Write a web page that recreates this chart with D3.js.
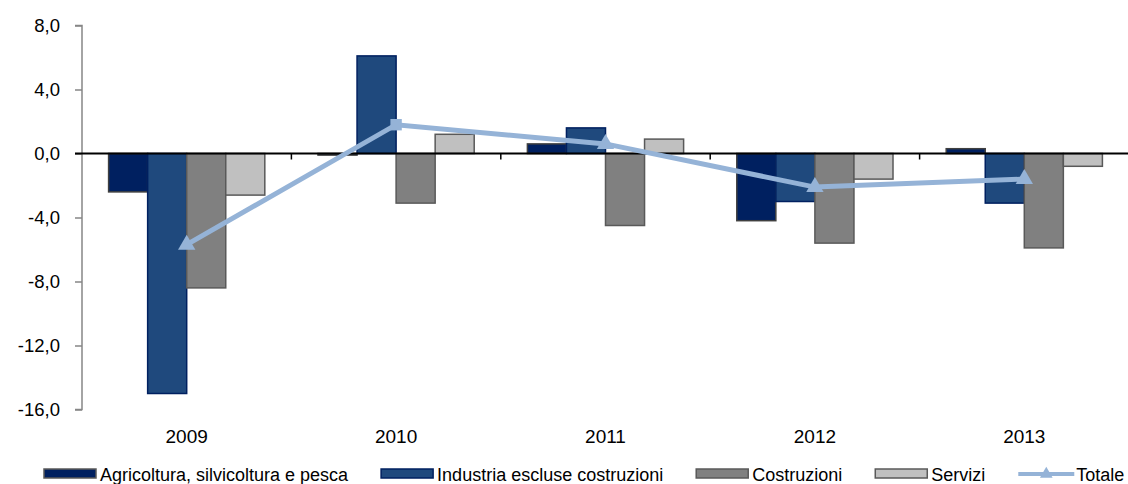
<!DOCTYPE html>
<html>
<head>
<meta charset="utf-8">
<script src="https://cdn.jsdelivr.net/npm/d3@7"></script>
<style>
  body { margin: 0; background: #fff; }
  text { font-family: "Liberation Sans", Arial, sans-serif; fill: #000; }
</style>
</head>
<body>
<div class="chart"></div>
<script>
// data
const years = ["2009", "2010", "2011", "2012", "2013"];
const series = ["Agricoltura, silvicoltura e pesca", "Industria escluse costruzioni", "Costruzioni", "Servizi"];
const agricoltura = [-2.4, -0.1, 0.6, -4.2, 0.3];
const industria = [-15.0, 6.1, 1.6, -3.0, -3.1];
const costruzioni = [-8.4, -3.1, -4.5, -5.6, -5.9];
const servizi = [-2.6, 1.2, 0.9, -1.6, -0.8];
const totale = [-5.7, 1.8, 0.6, -2.1, -1.6];
const yTicks = [-16, -12, -8, -4, 0, 4, 8];

const values = [agricoltura, industria, costruzioni, servizi];
const fills = ["#002060", "#1f497d", "#808080", "#c0c0c0"];
const strokes = ["#404040", "#002060", "#595959", "#595959"];
const lineColor = "#95b3d7";

const width = 1128, height = 484;
const plotLeft = 82, plotRight = 1129, plotTop = 25.5, plotBottom = 409.5;

const svg = d3.select(".chart").append("svg")
    .attr("width", width)
    .attr("height", height);

const x0 = d3.scaleBand()
    .domain(years)
    .range([plotLeft, plotRight])
    .paddingInner(0.254)
    .paddingOuter(0.127);

const x1 = d3.scaleBand()
    .domain(d3.range(series.length))
    .range([0, x0.bandwidth()]);

const y = d3.scaleLinear()
    .domain([-16, 8])
    .range([plotBottom, plotTop]);

// italian style: comma decimal, plain hyphen minus
const it = d3.formatLocale({ decimal: ",", thousands: ".", grouping: [3], currency: ["", "€"], minus: "-" });
const fmt = it.format(".1f");

// y axis
const yAxis = svg.append("g")
    .attr("transform", `translate(${plotLeft},0)`)
    .call(d3.axisLeft(y).tickValues(yTicks).tickSize(7).tickPadding(15).tickFormat(fmt));
yAxis.selectAll("path, line").attr("stroke", "#868686").attr("stroke-width", 1.5);
yAxis.select(".domain").attr("d", `M-7,${y(8)}H0V${y(-16)}H-7`);
yAxis.selectAll("text").style("font-size", "18.5px").attr("font-family", null);

// bars
const groups = svg.append("g").selectAll("g")
    .data(years)
    .join("g")
    .attr("transform", d => `translate(${x0(d)},0)`);

groups.selectAll("rect")
    .data((d, i) => values.map((v, k) => ({ k: k, v: v[i] })))
    .join("rect")
    .attr("x", d => x1(d.k))
    .attr("width", x1.bandwidth())
    .attr("y", d => y(Math.max(0, d.v)))
    .attr("height", d => Math.abs(y(d.v) - y(0)))
    .attr("fill", d => fills[d.k])
    .attr("stroke", d => strokes[d.k])
    .attr("stroke-width", 1.5);

// zero line with category ticks
const xAxis = svg.append("g")
    .attr("transform", `translate(0,${y(0)})`);
xAxis.append("line")
    .attr("x1", plotLeft - 7).attr("x2", plotRight)
    .attr("stroke", "#000").attr("stroke-width", 1.8);
const bounds = years.map(d => x0(d) - x0.step() * x0.paddingInner() / 2).concat([plotRight]);
xAxis.selectAll(".tk")
    .data(bounds.slice(1))
    .join("line")
    .attr("class", "tk")
    .attr("x1", d => d).attr("x2", d => d)
    .attr("y1", 0).attr("y2", 6)
    .attr("stroke", "#000").attr("stroke-width", 1.5);

// year labels
svg.append("g").selectAll("text")
    .data(years)
    .join("text")
    .attr("x", d => x0(d) + x0.bandwidth() / 2)
    .attr("y", 443)
    .attr("text-anchor", "middle")
    .style("font-size", "19px")
    .text(d => d);

// totale line
const cx = (d, i) => x0(years[i]) + x0.bandwidth() / 2;
const line = d3.line()
    .x(cx)
    .y(d => y(d));

svg.append("path")
    .datum(totale)
    .attr("d", line)
    .attr("fill", "none")
    .attr("stroke", lineColor)
    .attr("stroke-width", 5);

const tri = d3.symbol().type(d3.symbolTriangle).size(130);
const sq = d3.symbol().type(d3.symbolSquare).size(130);
svg.append("g").selectAll("path")
    .data(totale)
    .join("path")
    .attr("transform", (d, i) => `translate(${cx(d, i)},${y(d)})`)
    .attr("d", (d, i) => i === 1 ? sq() : tri())
    .attr("fill", lineColor);

// legend
const legend = svg.append("g").attr("transform", "translate(0,474)");
let lx = 44;
const labels = series.concat(["Totale"]);
labels.forEach((name, k) => {
    if (k < 4) {
        legend.append("rect")
            .attr("x", lx).attr("y", -5)
            .attr("width", 52).attr("height", 9)
            .attr("fill", fills[k])
            .attr("stroke", k === 1 ? "#002060" : "#595959")
            .attr("stroke-width", 1.5);
    } else {
        legend.append("line")
            .attr("x1", lx).attr("x2", lx + 56)
            .attr("stroke", lineColor).attr("stroke-width", 4);
        legend.append("path")
            .attr("transform", `translate(${lx + 28},0)`)
            .attr("d", d3.symbol().type(d3.symbolTriangle).size(70)())
            .attr("fill", lineColor);
    }
    const t = legend.append("text")
        .attr("x", lx + (k < 4 ? 56 : 58))
        .attr("y", 7)
        .style("font-size", "18px")
        .text(name);
    lx += (k < 4 ? 56 : 58) + t.node().getComputedTextLength() + 33;
});
</script>
</body>
</html>
